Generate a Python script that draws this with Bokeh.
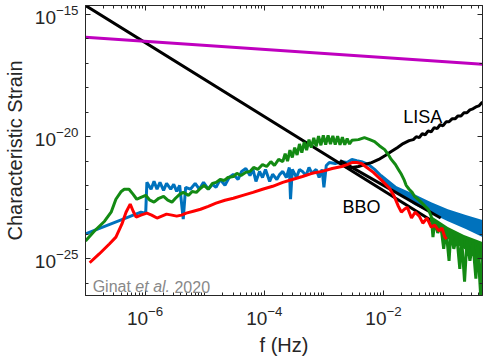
import numpy as np
from bokeh.plotting import figure
from bokeh.models import LogAxis, FixedTicker, CustomJSTickFormatter, Label
from bokeh.embed import file_html
from bokeh.resources import INLINE

# ---- data (log10 values) ----
# LISA sensitivity curve
lisa_logf = [-7.00, -2.65, -2.53, -2.42, -2.32, -2.20, -2.08, -1.97, -1.87, -1.77, -1.67, -1.57,
             -1.50, -1.45, -1.40, -1.35, -1.30, -1.25, -1.20, -1.15, -1.10, -1.05, -1.00, -0.95,
             -0.90, -0.85, -0.80, -0.75, -0.70, -0.65, -0.60, -0.55, -0.50, -0.45, -0.40, -0.34]
lisa_logh = [-14.63, -21.22, -21.26, -21.22, -21.14, -21.06, -20.93, -20.77, -20.61, -20.45, -20.28, -20.16,
             -20.12, -20.00, -20.04, -19.88, -19.92, -19.76, -19.80, -19.63, -19.67, -19.51, -19.55, -19.39,
             -19.39, -19.27, -19.27, -19.15, -19.15, -19.02, -19.02, -18.90, -18.86, -18.78, -18.74, -18.58]

# BBO sensitivity band (two edges)
bbo_up_logf = [-2.73, -1.04]
bbo_up_logh = [-20.98, -23.33]
bbo_lo_logf = [-2.65, -1.15]
bbo_lo_logh = [-21.22, -23.50]

# magenta power law
mag_logf = [-7.00, -0.34]
mag_logh = [-15.93, -17.03]

# red spectrum
red_logf = [-6.93, -6.77, -6.60, -6.49, -6.39, -6.32, -6.25, -6.20, -6.15, -6.07, -5.97, -5.89, -5.80,
            -5.72, -5.64, -5.55, -5.47, -5.39, -5.31, -5.19, -5.07, -4.94, -4.81, -4.66, -4.52, -4.36,
            -4.19, -4.03, -3.86, -3.69, -3.53, -3.36, -3.20, -3.03, -2.86, -2.70, -2.61, -2.53, -2.45,
            -2.37, -2.28, -2.17, -2.03, -1.90, -1.82, -1.75, -1.70, -1.65, -1.60, -1.53, -1.47, -1.40,
            -1.34, -1.27, -1.20, -1.14, -1.07, -1.02, -0.97, -0.94]
red_logh = [-25.16, -24.80, -24.39, -24.11, -23.58, -23.09, -22.76, -23.05, -23.29, -23.21, -23.13, -23.21,
            -23.33, -23.25, -23.17, -23.21, -23.25, -23.21, -23.13, -23.05, -22.97, -22.85, -22.72, -22.60,
            -22.52, -22.40, -22.28, -22.15, -22.03, -21.87, -21.75, -21.63, -21.50, -21.42, -21.30, -21.22,
            -21.14, -21.06, -21.06, -21.10, -21.26, -21.46, -21.79, -22.11, -22.44, -22.85, -23.09, -22.97,
            -22.89, -23.33, -23.09, -23.25, -23.54, -23.33, -23.70, -23.62, -23.86, -23.74, -24.11, -24.19]

# blue spectrum
blue_logf = [-7.00, -6.07, -5.99, -5.97, -5.90, -5.85, -5.80, -5.75, -5.69, -5.64, -5.57, -5.52, -5.47,
             -5.42, -5.36, -5.32, -5.24, -5.16, -5.09, -5.02, -4.94, -4.87, -4.81, -4.74, -4.66, -4.59,
             -4.52, -4.44, -4.38, -4.31, -4.24, -4.19, -4.14, -4.08, -4.03, -3.98, -3.91, -3.86, -3.79,
             -3.74, -3.69, -3.63, -3.58, -3.56, -3.53, -3.46, -3.41, -3.36, -3.30, -3.25, -3.20, -3.13,
             -3.08, -3.03, -3.00, -2.96, -2.91, -2.81, -2.70, -2.61, -2.53, -2.45, -2.37, -2.25, -2.15,
             -2.03, -1.90, -1.78]
blue_logh = [-23.98, -23.09, -23.13, -21.87, -22.15, -21.83, -22.15, -21.87, -22.20, -21.91, -22.15, -21.95,
             -22.24, -21.99, -23.37, -22.07, -22.15, -21.91, -22.15, -21.87, -22.15, -21.95, -22.07, -21.75,
             -21.99, -21.67, -21.54, -21.75, -21.42, -21.30, -21.59, -21.34, -21.83, -21.42, -21.67, -21.34,
             -21.83, -21.54, -21.75, -21.54, -21.42, -21.67, -21.26, -22.56, -21.34, -21.67, -21.34, -21.42,
             -21.59, -21.26, -21.50, -21.34, -21.67, -21.34, -22.07, -21.18, -21.06, -21.10, -21.02, -21.06,
             -20.93, -20.98, -21.02, -21.14, -21.34, -21.63, -21.95, -22.15]
# blue noisy high-frequency band
blue_band_logf = [-2.03, -1.78, -1.48, -1.20, -0.92, -0.62, -0.34]
blue_band_hi = [-21.54, -22.03, -22.36, -22.68, -22.97, -23.21, -23.41]
blue_band_lo = [-21.79, -22.28, -22.80, -23.13, -23.46, -23.78, -24.11]

# green spectrum
green_logf = [-7.00, -6.85, -6.68, -6.57, -6.49, -6.40, -6.35, -6.27, -6.20, -6.14, -6.07, -5.99, -5.92,
              -5.85, -5.77, -5.69, -5.62, -5.55, -5.49, -5.42, -5.36, -5.27, -5.21, -5.14, -5.07, -5.01,
              -4.94, -4.87, -4.81, -4.74, -4.67, -4.61, -4.52, -4.46, -4.39, -4.31, -4.24, -4.18, -4.11,
              -4.03, -3.96, -3.89, -3.83, -3.76,
              -3.69, -3.65, -3.61, -3.57, -3.53, -3.49, -3.45, -3.41, -3.37, -3.33, -3.29, -3.25, -3.21,
              -3.17, -3.13, -3.09, -3.05, -3.01, -2.97, -2.93, -2.89, -2.85, -2.81, -2.77, -2.73, -2.69,
              -2.65, -2.61, -2.57, -2.53,
              -2.42, -2.32, -2.23, -2.15, -2.07, -1.98,
              -1.92, -1.87, -1.80, -1.75, -1.70, -1.65, -1.62, -1.57, -1.52, -1.48, -1.42, -1.37, -1.30,
              -1.25, -1.20, -1.17, -1.14, -1.09, -1.04, -0.99, -0.95, -0.90, -0.87, -0.82, -0.77, -0.72,
              -0.69, -0.64, -0.60, -0.55, -0.50, -0.45, -0.42, -0.37, -0.34]
green_logh = [-24.27, -23.86, -23.46, -23.09, -22.56, -22.24, -22.15, -22.15, -22.36, -22.56, -22.48, -22.40,
              -22.60, -22.68, -22.52, -22.44, -22.60, -22.68, -22.52, -22.36, -22.28, -22.40, -22.24, -22.28,
              -22.11, -21.99, -22.15, -21.91, -21.87, -21.75, -21.79, -21.67, -21.63, -21.50, -21.59, -21.46,
              -21.42, -21.26, -21.34, -21.14, -21.22, -21.02, -21.18, -20.93,
              -21.02, -20.70, -21.00, -20.55, -20.85, -20.45, -20.75, -20.30, -20.65, -20.22, -20.55, -20.12,
              -20.45, -20.05, -20.40, -19.98, -20.35, -19.95, -20.32, -19.95, -20.30, -19.97, -20.32, -19.98,
              -20.33, -20.02, -20.33, -20.08, -20.30, -20.15,
              -20.12, -20.04, -20.12, -20.20, -20.37, -20.53,
              -20.73, -20.93, -21.14, -21.34, -21.54, -21.79, -21.99,
              -22.15, -22.28, -22.44, -22.56, -22.68, -22.85, -22.97, -23.25, -24.11, -23.46, -23.94, -23.62,
              -24.59, -23.82, -25.08, -23.94, -24.59, -24.07, -25.41, -24.15, -25.93, -24.23, -25.08, -24.35,
              -25.81, -24.43, -26.50, -24.51]
# green noisy high-frequency band
green_hf_logf = [-1.20, -0.92, -0.65, -0.34]
green_hf_hi = [-23.25, -23.70, -24.02, -24.31]
green_hf_lo = [-23.58, -24.19, -24.59, -25.08]

x_major = [-6, -4, -2]
y_major = [-25, -20, -15]

# ---- colours / styles ----
BLUE = "#0072BD"
GREEN = "#138A13"
RED = "#FF0000"
MAG = "#BF00BF"
AX = "#262626"
FONT = "Liberation Sans"

def p10(a):
    return [10.0 ** v for v in a]

p = figure(width=485, height=358, x_axis_type="log", y_axis_type="log",
           x_range=(1e-7, 10 ** -0.339), y_range=(10 ** -26.5, 10 ** -14.63),
           output_backend="svg", toolbar_location=None,
           min_border_left=81, min_border_right=3, min_border_top=5, min_border_bottom=61)
p.xgrid.visible = False
p.ygrid.visible = False
p.background_fill_color = "white"
p.border_fill_color = "white"
p.outline_line_color = AX

# ticks
x_minor = [m * 10.0 ** e for e in range(-7, 0) for m in range(1, 10)]
x_minor = [t for t in x_minor if t < 0.46]
y_minor = [10.0 ** e for e in range(-26, -14)]
xt = FixedTicker(ticks=p10(x_major), minor_ticks=x_minor)
yt = FixedTicker(ticks=p10(y_major), minor_ticks=y_minor)

for ax, t in ((p.xaxis[0], xt), (p.yaxis[0], yt)):
    ax.ticker = t
    ax.major_tick_in = 5
    ax.major_tick_out = 0
    ax.minor_tick_in = 3
    ax.minor_tick_out = 0
    ax.axis_line_color = AX
    ax.major_tick_line_color = AX
    ax.minor_tick_line_color = AX
    ax.major_label_text_font = FONT
    ax.major_label_text_font_size = "19px"
    ax.major_label_text_color = AX
    ax.axis_label_text_font = FONT
    ax.axis_label_text_font_size = "20px"
    ax.axis_label_text_font_style = "normal"
    ax.axis_label_text_color = AX

p.xaxis.axis_label = "f (Hz)"
p.yaxis.axis_label = "Characteristic Strain"
p.xaxis.major_label_standoff = 10
p.xaxis.axis_label_standoff = 6
p.yaxis.major_label_standoff = 7
p.yaxis.axis_label_standoff = 6

blank = CustomJSTickFormatter(code="return ''")
for loc, t in (("above", xt), ("right", yt)):
    a = LogAxis(ticker=t, formatter=blank, major_tick_in=5, major_tick_out=0,
                minor_tick_in=3, minor_tick_out=0, major_label_standoff=0,
                axis_line_color=AX, major_tick_line_color=AX, minor_tick_line_color=AX)
    p.add_layout(a, loc)

LW = 3
p.varea(x=p10(blue_band_logf), y1=p10(blue_band_lo), y2=p10(blue_band_hi), fill_color=BLUE)
p.line(p10(blue_logf), p10(blue_logh), line_color=BLUE, line_width=LW)
p.line(p10(bbo_up_logf), p10(bbo_up_logh), line_color="black", line_width=LW)
p.line(p10(bbo_lo_logf), p10(bbo_lo_logh), line_color="black", line_width=LW)
p.line(p10(lisa_logf), p10(lisa_logh), line_color="black", line_width=LW)
p.varea(x=p10(green_hf_logf), y1=p10(green_hf_lo), y2=p10(green_hf_hi), fill_color=GREEN)
p.line(p10(green_logf), p10(green_logh), line_color=GREEN, line_width=LW)
p.line(p10(red_logf), p10(red_logh), line_color=RED, line_width=LW)
p.line(p10(mag_logf), p10(mag_logh), line_color=MAG, line_width=LW)

# annotations
p.add_layout(Label(x=10 ** -1.34, y=10 ** -19.19, text="LISA", text_align="center",
                   text_baseline="middle", text_font=FONT, text_font_size="18px", text_color="black"))
p.add_layout(Label(x=10 ** -2.37, y=10 ** -22.87, text="BBO", text_align="center",
                   text_baseline="middle", text_font=FONT, text_font_size="18px", text_color="black"))
gx, gy = 10 ** -6.88, 10 ** -26.14
for txt, off, style in (("Ginat", 0, "normal"), ("et al.", 42.7, "italic"), ("2020", 81.8, "normal")):
    p.add_layout(Label(x=gx, y=gy, x_offset=off, text=txt, text_align="left", text_baseline="alphabetic",
                       text_font=FONT, text_font_size="16px", text_font_style=style, text_color="#888888"))

open("out.html", "w").write(file_html(p, INLINE))
